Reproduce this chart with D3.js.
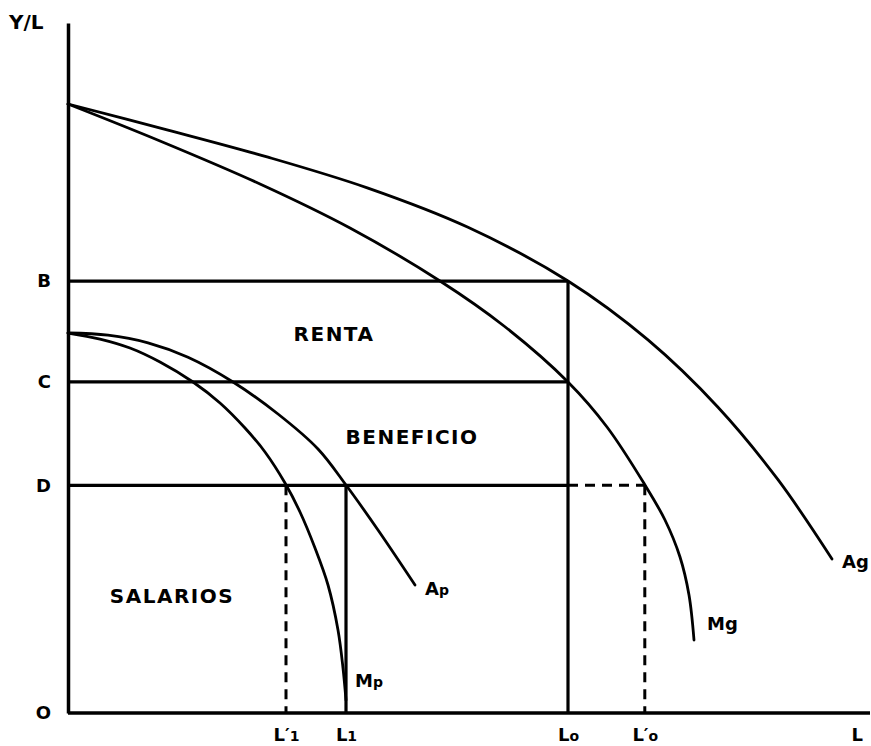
<!DOCTYPE html>
<html>
<head>
<meta charset="utf-8">
<script src="https://cdn.jsdelivr.net/npm/d3@7"></script>
<style>
body { margin: 0; background: #fff; }
text { font-family: "DejaVu Sans", sans-serif; font-weight: bold; fill: #000; }
</style>
</head>
<body>
<div id="vis"></div>
<script>
// levels (Y/L units, 0..100)
var levelB = 62.6, levelC = 48, levelD = 33;
// employment points (L units, 0..100)
var xL1p = 27.25, xL1 = 34.75, xLo = 62.5, xLop = 72.1, xEnd = 98.6;

var yTickValues = [0, levelD, levelC, levelB];
var yTickLabels = ['O', 'D', 'C', 'B'];
var xTickValues = [xL1p, xL1, xLo, xLop, xEnd];
var xTickLabels = [['L\u2032', '1'], ['L', '1'], ['L', 'o'], ['L\u2032', 'o'], ['L', '']];

// curves: average / marginal product, good land (g) and poor land (p)
var agCurve = [[0, 88.26], [12.5, 84.48], [25, 80.55], [37.5, 76.07], [50, 70.39], [62.5, 62.61],
               [72.5, 54.07], [81.25, 44.32], [88.75, 33.81], [95.5, 22.32]];
var mgCurve = [[0, 88.26], [11.5, 82.9], [24, 76.67], [35.25, 70.29], [46.5, 62.61], [54.5, 56.09],
               [62.5, 47.97], [67.375, 41.45], [72.125, 33.04], [74.625, 27.97], [76.5, 22.61],
               [77.625, 17.1], [78.25, 10.58]];
var apCurve = [[0, 55.07], [5, 54.75], [10, 53.64], [15, 51.55], [20.625, 47.97], [26.25, 43.33],
               [31.25, 38.26], [34.75, 33.04], [38.75, 26.52], [43.375, 18.55]];
var mpCurve = [[0, 55.07], [4, 54.2], [7.75, 52.9], [11.5, 50.87], [15.625, 47.97], [19, 44.93],
               [22.125, 41.3], [24.625, 37.83], [27.125, 33.33], [29, 29.13], [30.875, 23.91],
               [32.5, 18.55], [33.75, 12.03], [34.375, 6.52], [34.75, 1.88]];
var curveNames = [['A', 'g'], ['M', 'g'], ['A', 'p'], ['M', 'p']];

var width = 871, height = 746;

var svg = d3.select('#vis')
    .append('svg')
        .attr('width', width)
        .attr('height', height);

var x = d3.scaleLinear().domain([0, 100]).range([68, 868]);
var y = d3.scaleLinear().domain([0, 100]).range([713, 23]);

// axes
var yAxis = d3.axisLeft(y)
    .tickValues(yTickValues)
    .tickFormat(function(d, i){ return yTickLabels[i]; })
    .tickSize(0)
    .tickSizeOuter(0)
    .tickPadding(17);

var gy = svg.append('g')
    .attr('transform', 'translate(' + x(0) + ',0)')
    .call(yAxis);

var xAxis = d3.axisBottom(x)
    .tickValues(xTickValues)
    .tickFormat('')
    .tickSize(0)
    .tickSizeOuter(0)
    .tickPadding(15);

var gx = svg.append('g')
    .attr('transform', 'translate(0,' + y(0) + ')')
    .call(xAxis);

gx.select('.domain').attr('d', 'M' + x(0) + ',0H870');

[gx, gy].forEach(function(g){
    g.attr('font-family', null).attr('font-size', 18);
    g.select('.domain').attr('stroke', '#000').attr('stroke-width', 3.5);
});

gx.selectAll('.tick text').each(function(d, i){
    var t = d3.select(this).text('');
    t.append('tspan').text(xTickLabels[i][0]);
    t.append('tspan').attr('font-size', 14).text(xTickLabels[i][1]);
});

svg.append('text')
    .attr('x', 9)
    .attr('y', 29)
    .attr('font-size', 20)
    .text('Y/L');

// rectangles of rent, profit and wages
var solid = [
    [[0, levelB], [xLo, levelB]],
    [[0, levelC], [xLo, levelC]],
    [[0, levelD], [xLo, levelD]],
    [[xLo, levelB], [xLo, 0]],
    [[xL1, levelD], [xL1, 0]]
];
var dashed = [
    [[xLo, levelD], [xLop, levelD]],
    [[xLop, levelD], [xLop, 0]],
    [[xL1p, levelD], [xL1p, 0]]
];

var line = d3.line()
    .x(function(d){ return x(d[0]); })
    .y(function(d){ return y(d[1]); });

svg.selectAll('.solid')
    .data(solid)
    .enter().append('path')
    .attr('class', 'solid')
    .attr('d', line)
    .attr('fill', 'none')
    .attr('stroke', '#000')
    .attr('stroke-width', 3.2);

svg.selectAll('.dashed')
    .data(dashed)
    .enter().append('path')
    .attr('class', 'dashed')
    .attr('d', line)
    .attr('fill', 'none')
    .attr('stroke', '#000')
    .attr('stroke-width', 3)
    .attr('stroke-dasharray', '10,7');

// curves
var smooth = d3.line()
    .x(function(d){ return x(d[0]); })
    .y(function(d){ return y(d[1]); })
    .curve(d3.curveCatmullRom.alpha(0.5));

var curves = [agCurve, mgCurve, apCurve, mpCurve];
var labelOffset = [[10, 9], [13, -10], [10, 10], [9, -13]];

svg.selectAll('.curve')
    .data(curves)
    .enter().append('path')
    .attr('class', 'curve')
    .attr('d', smooth)
    .attr('fill', 'none')
    .attr('stroke', '#000')
    .attr('stroke-width', 2.8)
    .attr('stroke-linecap', 'round');

curves.forEach(function(c, i){
    var last = c[c.length - 1];
    var t = svg.append('text')
        .attr('x', x(last[0]) + labelOffset[i][0])
        .attr('y', y(last[1]) + labelOffset[i][1])
        .attr('font-size', 18);
    t.append('tspan').text(curveNames[i][0]);
    t.append('tspan').attr('font-size', curveNames[i][1] == 'p' ? 14 : 18).text(curveNames[i][1]);
});

// region names
var regions = [
    {name: 'RENTA', at: [33.25, 53.9]},
    {name: 'BENEFICIO', at: [43, 39.0]},
    {name: 'SALARIOS', at: [13, 16.0]}
];

svg.selectAll('.region')
    .data(regions)
    .enter().append('text')
    .attr('class', 'region')
    .attr('x', function(d){ return x(d.at[0]); })
    .attr('y', function(d){ return y(d.at[1]); })
    .attr('text-anchor', 'middle')
    .attr('font-size', 20)
    .attr('letter-spacing', 1.5)
    .text(function(d){ return d.name; });
</script>
</body>
</html>
